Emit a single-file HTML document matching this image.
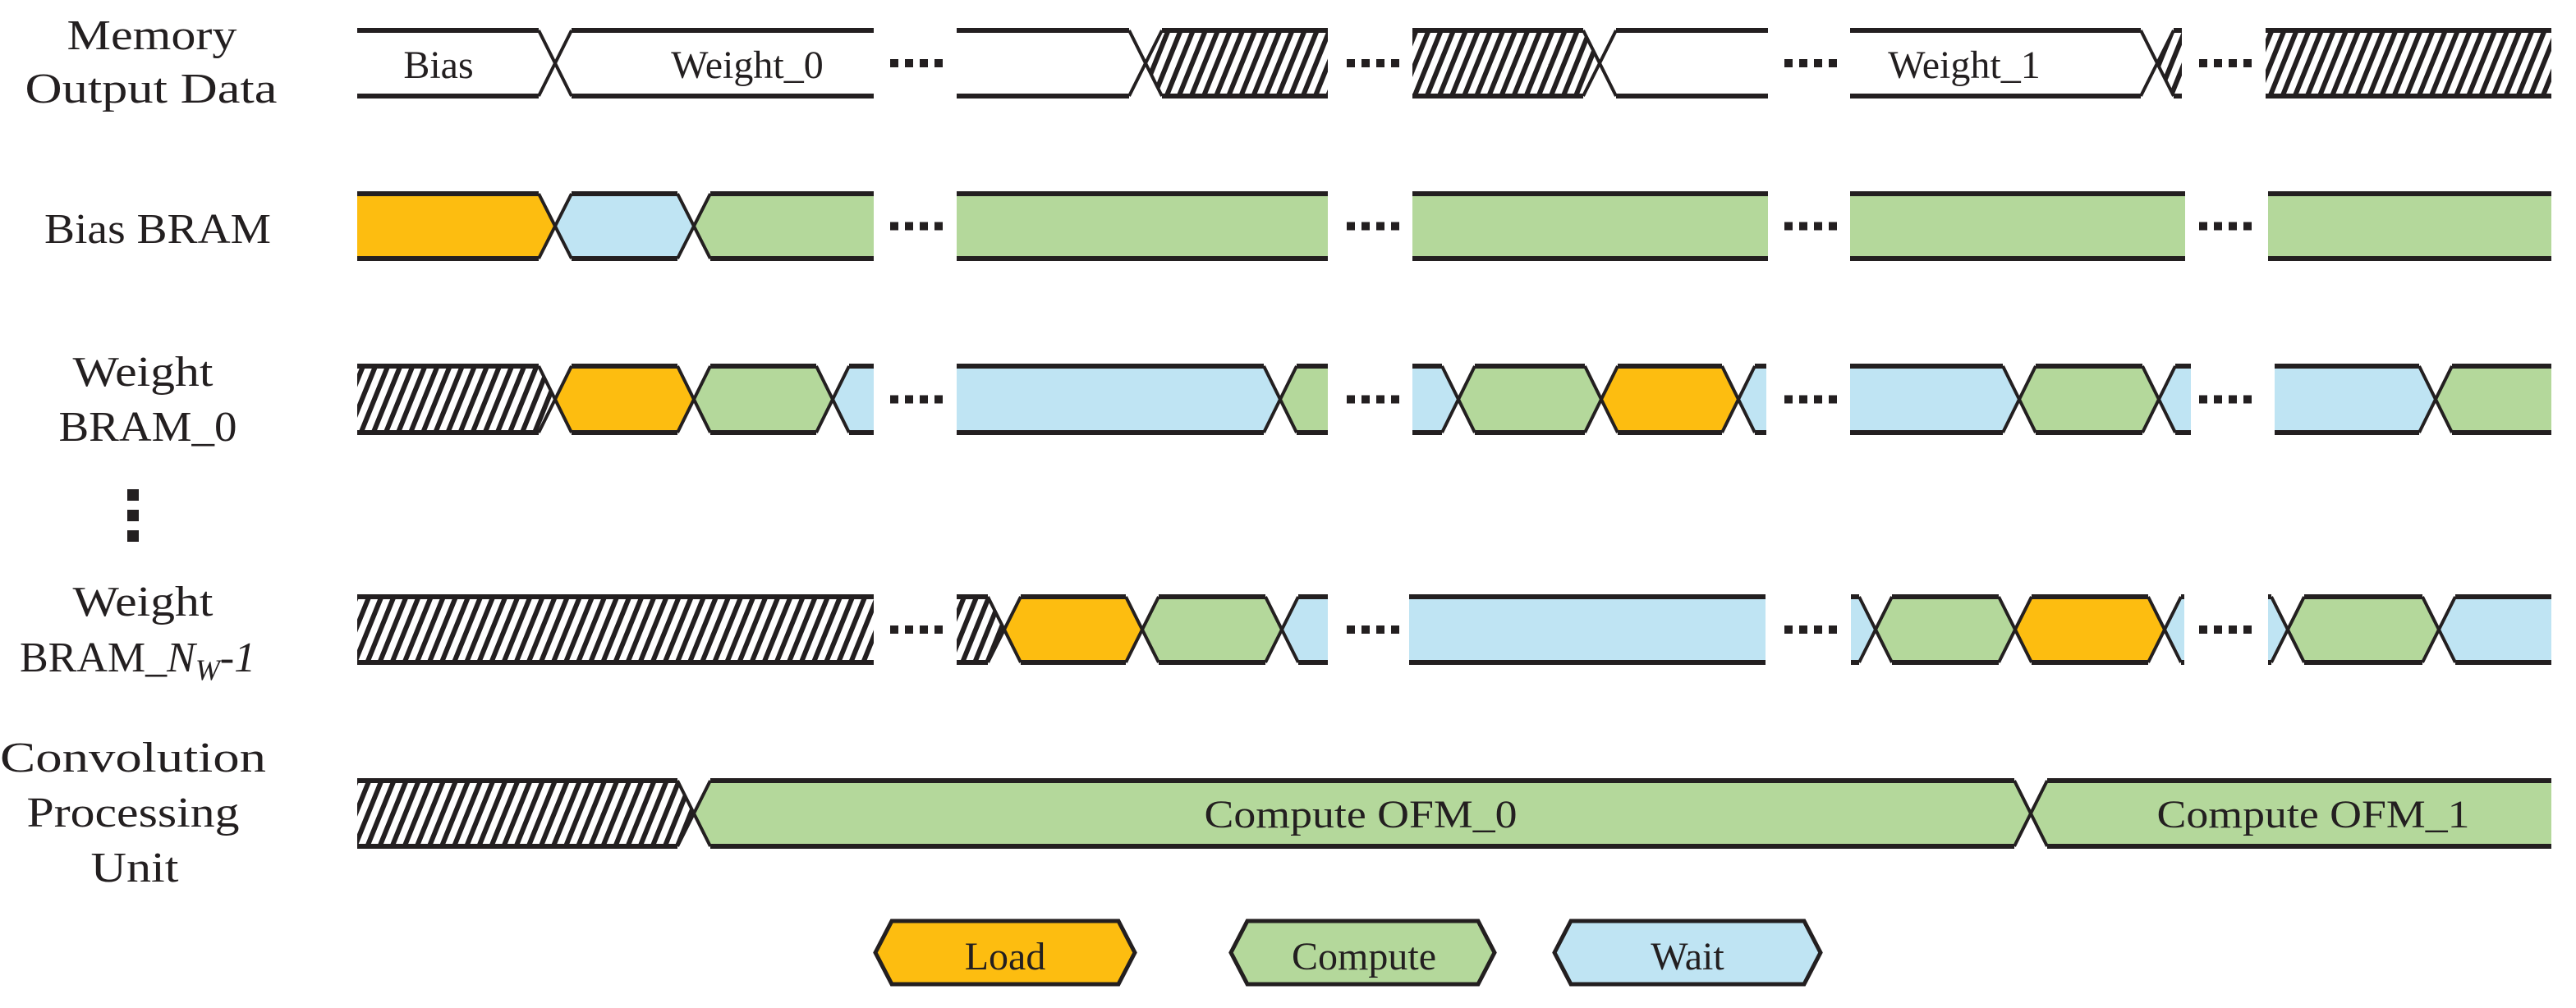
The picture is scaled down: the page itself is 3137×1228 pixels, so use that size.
<!DOCTYPE html>
<html><head><meta charset="utf-8"><style>
html,body{margin:0;padding:0;background:#fff;}
svg{display:block;}
text{font-family:"Liberation Serif",serif;fill:#231F20;}
</style></head><body>
<svg id="s" width="3137" height="1228" viewBox="0 0 3137 1228" xmlns="http://www.w3.org/2000/svg">
<defs>
<pattern id="hatch" patternUnits="userSpaceOnUse" width="14" height="14" patternTransform="rotate(22)">
<rect width="14" height="14" fill="#fff"/>
<rect x="0" y="0" width="6" height="14" fill="#231F20"/>
</pattern>
</defs>
<g id="shapes"></g>
<g font-size="52" text-anchor="middle">
<text x="185" y="60" textLength="207" lengthAdjust="spacingAndGlyphs">Memory</text>
<text x="184" y="125" textLength="307" lengthAdjust="spacingAndGlyphs">Output Data</text>
<text x="192" y="296" textLength="276" lengthAdjust="spacingAndGlyphs">Bias BRAM</text>
<text x="174" y="470" textLength="171" lengthAdjust="spacingAndGlyphs">Weight</text>
<text x="180" y="537" textLength="217" lengthAdjust="spacingAndGlyphs">BRAM_0</text>
<text x="174" y="750" textLength="171" lengthAdjust="spacingAndGlyphs">Weight</text>
<text x="162" y="940" textLength="324" lengthAdjust="spacingAndGlyphs">Convolution</text>
<text x="162" y="1007" textLength="259" lengthAdjust="spacingAndGlyphs">Processing</text>
<text x="164" y="1074" textLength="107" lengthAdjust="spacingAndGlyphs">Unit</text>
</g>
<text x="24" y="818" font-size="52">BRAM_<tspan font-style="italic">N</tspan><tspan font-style="italic" font-size="36" dy="10">W</tspan><tspan dy="-10" font-style="italic">-1</tspan></text>
<rect x="155" y="596" width="14" height="14" fill="#231F20"/>
<rect x="155" y="621" width="14" height="14" fill="#231F20"/>
<rect x="155" y="646" width="14" height="14" fill="#231F20"/>
<g font-size="48" text-anchor="middle">
<text x="534" y="95">Bias</text>
<text x="910" y="95">Weight_0</text>
<text x="2392" y="95">Weight_1</text>
<text x="1657" y="1008" textLength="381" lengthAdjust="spacingAndGlyphs">Compute OFM_0</text>
<text x="2817" y="1008" textLength="381" lengthAdjust="spacingAndGlyphs">Compute OFM_1</text>
<text x="1224" y="1181">Load</text>
<text x="1661" y="1181">Compute</text>
<text x="2055" y="1181">Wait</text>
</g>
</svg>
<script>
(function(){
var C={w:'#fff',h:'url(#hatch)',Y:'#FDBD10',G:'#B4D89B',B:'#BFE4F3'};
var K='#231F20';
var rows=[
[37,117,[[435,676,0,1,'w'],[676,1064,1,0,'w'],[1165,1395,0,1,'w'],[1395,1617,1,0,'h'],[1720,1948,0,1,'h'],[1948,2153,1,0,'w'],[2253,2627,0,1,'w'],[2627,2657,1,0,'h'],[2759,3107,0,0,'h']],1],
[236,315,[[435,676,0,1,'Y'],[676,845,1,1,'B'],[845,1064,1,0,'G'],[1165,1617,0,0,'G'],[1720,2153,0,0,'G'],[2253,2661,0,0,'G'],[2762,3107,0,0,'G']],1],
[446,527,[[435,676,0,1,'h'],[676,845,1,1,'Y'],[845,1014,1,1,'G'],[1014,1064,1,0,'B'],[1165,1559,0,1,'B'],[1559,1617,1,0,'G'],[1720,1776,0,1,'B'],[1776,1950,1,1,'G'],[1950,2117,1,1,'Y'],[2117,2151,1,0,'B'],[2253,2459,0,1,'B'],[2459,2629,1,1,'G'],[2629,2668,1,0,'B'],[2770,2966,0,1,'B'],[2966,3107,1,0,'G']],1],
[727,807,[[435,1064,0,0,'h'],[1165,1223,0,1,'h'],[1223,1391,1,1,'Y'],[1391,1561,1,1,'G'],[1561,1617,1,0,'B'],[1716,2150,0,0,'B'],[2254,2284,0,1,'B'],[2284,2454,1,1,'G'],[2454,2636,1,1,'Y'],[2636,2660,1,0,'B'],[2762,2786,0,1,'B'],[2786,2970,1,1,'G'],[2970,3107,1,0,'B']],1],
[951,1031,[[435,845,0,1,'h'],[845,2473,1,1,'G'],[2473,3107,1,0,'G']],0]
];
var d=20,out='';
rows.forEach(function(r){
 var y0=r[0],y1=r[1],ym=(y0+y1)/2;
 r[2].forEach(function(s){
  var a=s[0],b=s[1],lp=s[2],rp=s[3];
  var tl=lp?[a+d,y0]:[a,y0],bl=lp?[a+d,y1]:[a,y1],tr=rp?[b-d,y0]:[b,y0],br=rp?[b-d,y1]:[b,y1];
  var pts=[];
  if(lp)pts.push([a,ym]);
  pts.push(tl,tr); if(rp)pts.push([b,ym]); pts.push(br,bl);
  out+='<polygon points="'+pts.map(function(p){return p.join(',')}).join(' ')+'" fill="'+C[s[4]]+'"/>';
  var top=[];if(lp)top.push([a,ym]);top.push(tl,tr);if(rp)top.push([b,ym]);
  var bot=[];if(lp)bot.push([a,ym]);bot.push(bl,br);if(rp)bot.push([b,ym]);
  [top,bot].forEach(function(l){
   for(var i=0;i<l.length-1;i++){
    var p=l[i],q=l[i+1],hz=(p[1]==q[1]);
    out+='<line x1="'+p[0]+'" y1="'+p[1]+'" x2="'+q[0]+'" y2="'+q[1]+'" stroke="'+K+'" stroke-width="'+(hz?6:4)+'"/>';
   }
  });
 });
 if(r[3]){
 [1084,1640,2173,2678].forEach(function(x){
  for(var i=0;i<4;i++)out+='<rect x="'+(x+i*18)+'" y="'+(ym-5)+'" width="10" height="10" fill="'+K+'"/>';
 });
 }
});
[[1066,1382,'Y'],[1499,1820,'G'],[1893,2217,'B']].forEach(function(s){
 var a=s[0],b=s[1],y0=1122,y1=1199,ym=(y0+y1)/2;
 out+='<polygon points="'+a+','+ym+' '+(a+d)+','+y0+' '+(b-d)+','+y0+' '+b+','+ym+' '+(b-d)+','+y1+' '+(a+d)+','+y1+'" fill="'+C[s[2]]+'" stroke="'+K+'" stroke-width="5" stroke-linejoin="miter"/>';
});
document.getElementById('shapes').innerHTML=out;
})();
</script>
</body></html>
